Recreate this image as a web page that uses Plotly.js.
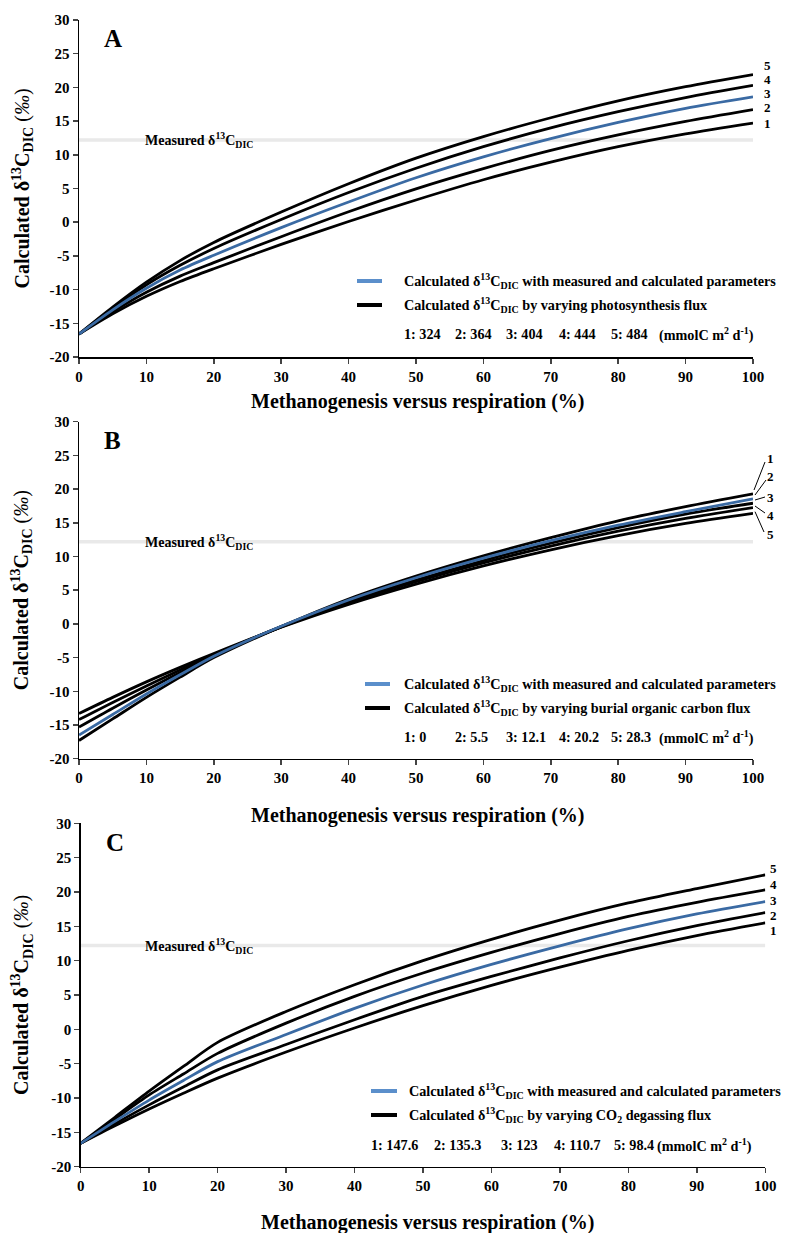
<!DOCTYPE html>
<html>
<head>
<meta charset="utf-8">
<script src="https://cdn.plot.ly/plotly-3.0.1.min.js"></script>
<style>html,body{margin:0;padding:0;background:#fff;}#chart{width:792px;height:1233px;}</style>
</head>
<body>
<div id="chart"></div>
<script>
// ---------------- DATA ----------------
const xPct = [0, 5, 10, 15, 20, 30, 40, 50, 60, 70, 80, 90, 100];
const measuredD13C = 12.2;

// Panel A: varying photosynthesis flux
const A1 = [-16.6, -13.6, -11.0, -8.8, -6.9, -3.3, 0.1, 3.3, 6.3, 8.9, 11.2, 13.1, 14.7];
const A2 = [-16.6, -13.3, -10.4, -8.0, -6.0, -2.15, 1.55, 4.95, 7.95, 10.65, 12.95, 14.95, 16.7];
const A3 = [-16.6, -13.0, -9.8, -7.1, -4.9, -0.8, 3.0, 6.6, 9.7, 12.4, 14.8, 16.9, 18.6];
const A4 = [-16.6, -12.8, -9.3, -6.4, -3.9, 0.4, 4.4, 8.0, 11.2, 14.0, 16.4, 18.5, 20.3];
const A5 = [-16.6, -12.6, -8.9, -5.7, -3.0, 1.5, 5.7, 9.5, 12.7, 15.5, 18.0, 20.1, 21.9];

// Panel B: varying burial organic carbon flux
const B1 = [-17.3, -14.1, -10.9, -7.9, -5.0, -0.4, 3.7, 7.1, 10.1, 12.8, 15.3, 17.4, 19.3];
const B2 = [-16.5, -13.45, -10.4, -7.55, -4.8, -0.35, 3.55, 6.85, 9.75, 12.35, 14.65, 16.65, 18.55]; // blue
const B3 = [-15.3, -12.5, -9.8, -7.2, -4.7, -0.4, 3.3, 6.5, 9.4, 12.0, 14.3, 16.3, 17.9];
const B4 = [-14.2, -11.65, -9.2, -6.85, -4.6, -0.45, 3.15, 6.25, 9.05, 11.55, 13.75, 15.65, 17.25];
const B5 = [-13.3, -10.9, -8.6, -6.45, -4.4, -0.5, 2.9, 5.9, 8.6, 11.0, 13.1, 14.9, 16.4];

// Panel C: varying CO2 degassing flux
const C1 = [-16.6, -14.05, -11.6, -9.3, -7.1, -3.3, 0.2, 3.45, 6.4, 9.05, 11.5, 13.65, 15.5];
const C2 = [-16.6, -13.75, -11.0, -8.4, -5.9, -2.2, 1.4, 4.8, 7.7, 10.4, 12.9, 15.1, 17.0];
const C3 = [-16.6, -13.4, -10.3, -7.45, -4.7, -0.75, 3.05, 6.45, 9.45, 12.15, 14.65, 16.8, 18.6];
const C4 = [-16.6, -13.05, -9.55, -6.5, -3.5, 0.9, 4.8, 8.2, 11.2, 13.95, 16.45, 18.5, 20.3];
const C5 = [-16.6, -12.8, -9.0, -5.4, -1.9, 2.6, 6.5, 10.0, 13.1, 15.9, 18.4, 20.5, 22.5];

const yTickVals = [-20, -15, -10, -5, 0, 5, 10, 15, 20, 25, 30];
const yTickText = ['-20', '-15', '-10', '-5', '0', '5', '10', '15', '20', '25', '30'];
const xTickVals = [0, 10, 20, 30, 40, 50, 60, 70, 80, 90, 100];
const xTickText = ['0', '10', '20', '30', '40', '50', '60', '70', '80', '90', '100'];

const panelLetters = ['A', 'B', 'C'];
const varyingText = ['photosynthesis flux', 'burial organic carbon flux', 'CO<sub>2</sub> degassing flux'];
const fluxA = ['324', '364', '404', '444', '484'];
const fluxB = ['0', '5.5', '12.1', '20.2', '28.3'];
const fluxC = ['147.6', '135.3', '123', '110.7', '98.4'];
const curveNames = ['1', '2', '3', '4', '5'];

// ---------------- LAYOUT HELPERS ----------------
const W = 792, H = 1233;
const px = x => x / W;
const py = y => 1 - y / H;
const FONT = 'Liberation Serif, Times New Roman, serif';
const BLACK = '#000000', BLUE = '#3a6aa3', BLUE_LEG = '#5b8fcb', GREY = '#e9e9e9';

const panels = [
  {x0: 79, x1: 753, y0: 20, y1: 357},
  {x0: 79, x1: 753, y0: 421.7, y1: 758.7},
  {x0: 80.7, x1: 765.3, y0: 823.3, y1: 1166.7}
];

const traces = [];
function addPanel(i, series, blueIdx) {
  const xa = i === 0 ? 'x' : 'x' + (i + 1);
  const ya = i === 0 ? 'y' : 'y' + (i + 1);
  traces.push({x: [0, 100], y: [measuredD13C, measuredD13C], xaxis: xa, yaxis: ya, mode: 'lines',
    line: {color: GREY, width: 3.5}, hoverinfo: 'skip', showlegend: false});
  series.forEach((s, k) => {
    if (k === blueIdx) return;
    traces.push({x: xPct, y: s, xaxis: xa, yaxis: ya, mode: 'lines', name: curveNames[k],
      line: {color: BLACK, width: 2.8, shape: 'spline', smoothing: 0.8}, showlegend: false});
  });
  traces.push({x: xPct, y: series[blueIdx], xaxis: xa, yaxis: ya, mode: 'lines', name: 'calc',
    line: {color: BLUE, width: 2.8, shape: 'spline', smoothing: 0.8}, showlegend: false});
}
addPanel(0, [A1, A2, A3, A4, A5], 2);
addPanel(1, [B1, B2, B3, B4, B5], 1);
addPanel(2, [C1, C2, C3, C4, C5], 2);

const layout = {
  width: W, height: H, margin: {l: 0, r: 0, t: 0, b: 0},
  paper_bgcolor: '#fff', plot_bgcolor: 'rgba(0,0,0,0)',
  font: {family: FONT, size: 14, color: '#000', weight: 'bold'},
  showlegend: false,
  annotations: [], shapes: []
};

panels.forEach((p, i) => {
  const sx = i === 0 ? '' : String(i + 1);
  layout['xaxis' + sx] = {
    domain: [px(p.x0), px(p.x1)], anchor: 'y' + sx, range: [0, 100],
    tickvals: xTickVals, ticktext: xTickText, ticks: 'outside', ticklen: 5, tickwidth: 1.5,
    showline: true, linecolor: '#000', linewidth: 1.5, showgrid: false, zeroline: false,
    tickfont: {family: FONT, size: 15, weight: 'bold'}, fixedrange: true
  };
  layout['yaxis' + sx] = {
    domain: [py(p.y1), py(p.y0)], anchor: 'x' + sx, range: [-20, 30],
    tickvals: yTickVals, ticktext: yTickText, ticks: 'outside', ticklen: 5, tickwidth: 1.5,
    showline: true, linecolor: '#000', linewidth: 1.5, showgrid: false, zeroline: false,
    tickfont: {family: FONT, size: 15, weight: 'bold'}, fixedrange: true
  };
  // panel letter
  layout.annotations.push({xref: 'paper', yref: 'paper', x: px(p.x0 + 23), y: py(p.y0 + 19),
    xanchor: 'left', yanchor: 'middle', showarrow: false, text: panelLetters[i],
    font: {family: FONT, size: 25, weight: 'bold'}});
  // y-axis title
  layout.annotations.push({xref: 'paper', yref: 'paper', x: px(22), y: py((p.y0 + p.y1) / 2),
    xanchor: 'center', yanchor: 'middle', showarrow: false, textangle: -90,
    text: 'Calculated δ<sup>13</sup>C<sub>DIC</sub> <span style="font-weight:normal">(<i>‰</i>)</span>',
    font: {family: FONT, size: 20, weight: 'bold'}});
  // measured label
  layout.annotations.push({xref: 'paper', yref: 'paper', x: px(143), y: py([140, 541.5, 946][i]),
    xanchor: 'left', yanchor: 'middle', showarrow: false,
    text: 'Measured δ<sup>13</sup>C<sub>DIC</sub>', font: {family: FONT, size: 14, weight: 'bold'}});
});

// x-axis titles
[[418, 401], [418, 815], [428, 1222]].forEach(([cx, cy]) => {
  layout.annotations.push({xref: 'paper', yref: 'paper', x: px(cx), y: py(cy), xanchor: 'center', yanchor: 'middle',
    showarrow: false, text: 'Methanogenesis versus respiration (%)', font: {family: FONT, size: 20, weight: 'bold'}});
});

// legends
const legs = [
  {sx0: 357, sx1: 382, tx: 402, r1: 281, r2: 305, r3: 334, flux: fluxA,
   fx: [402, 452.7, 504, 557, 609, 657]},
  {sx0: 365, sx1: 390, tx: 402, r1: 684, r2: 708, r3: 737, flux: fluxB,
   fx: [402, 452.7, 504.3, 557, 609, 657]},
  {sx0: 371, sx1: 397, tx: 407, r1: 1091, r2: 1115, r3: 1145, flux: fluxC,
   fx: [369, 432, 499, 552, 612, 655]}
];
const LF = 14.2;
legs.forEach((l, i) => {
  layout.shapes.push({type: 'line', xref: 'paper', yref: 'paper', x0: px(l.sx0), x1: px(l.sx1), y0: py(l.r1), y1: py(l.r1),
    line: {color: BLUE_LEG, width: 4}});
  layout.shapes.push({type: 'line', xref: 'paper', yref: 'paper', x0: px(l.sx0), x1: px(l.sx1), y0: py(l.r2), y1: py(l.r2),
    line: {color: BLACK, width: 4}});
  layout.annotations.push({xref: 'paper', yref: 'paper', x: px(l.tx), y: py(l.r1), xanchor: 'left', yanchor: 'middle', showarrow: false,
    text: 'Calculated δ<sup>13</sup>C<sub>DIC</sub> with measured and calculated parameters', font: {family: FONT, size: LF, weight: 'bold'}});
  layout.annotations.push({xref: 'paper', yref: 'paper', x: px(l.tx), y: py(l.r2), xanchor: 'left', yanchor: 'middle', showarrow: false,
    text: 'Calculated δ<sup>13</sup>C<sub>DIC</sub> by varying ' + varyingText[i], font: {family: FONT, size: LF, weight: 'bold'}});
  l.flux.forEach((f, k) => {
    layout.annotations.push({xref: 'paper', yref: 'paper', x: px(l.fx[k]), y: py(l.r3), xanchor: 'left', yanchor: 'middle', showarrow: false,
      text: curveNames[k] + ': ' + f, font: {family: FONT, size: LF, weight: 'bold'}});
  });
  layout.annotations.push({xref: 'paper', yref: 'paper', x: px(l.fx[5]), y: py(l.r3), xanchor: 'left', yanchor: 'middle', showarrow: false,
    text: '(mmolC m<sup>2</sup> d<sup>-1</sup>)', font: {family: FONT, size: LF, weight: 'bold'}});
});

// right-hand curve labels
const labA = [[767, 123.3], [767, 107.5], [767, 93.5], [767, 79.5], [767, 65.5]];
const labB = [[770, 458.3], [770, 476.7], [770, 497.3], [770, 516], [770, 535]];
const labC = [[773, 930], [773, 915], [773, 900], [773, 884], [773, 868.3]];
[labA, labB, labC].forEach(arr => arr.forEach(([x, y], k) => {
  layout.annotations.push({xref: 'paper', yref: 'paper', x: px(x), y: py(y), xanchor: 'center', yanchor: 'middle', showarrow: false,
    text: curveNames[k], font: {family: FONT, size: 13, weight: 'bold'}});
}));
// leader lines for panel B
[[754, 490, 765, 462], [755, 495, 766, 480], [755, 500, 765, 497], [755, 506, 765, 513], [755, 511.7, 764, 532]].forEach(([a, b, c, d]) => {
  layout.shapes.push({type: 'line', xref: 'paper', yref: 'paper', x0: px(a), y0: py(b), x1: px(c), y1: py(d), line: {color: '#000', width: 1}});
});

Plotly.newPlot('chart', traces, layout, {displayModeBar: false, staticPlot: true});
</script>
</body>
</html>
